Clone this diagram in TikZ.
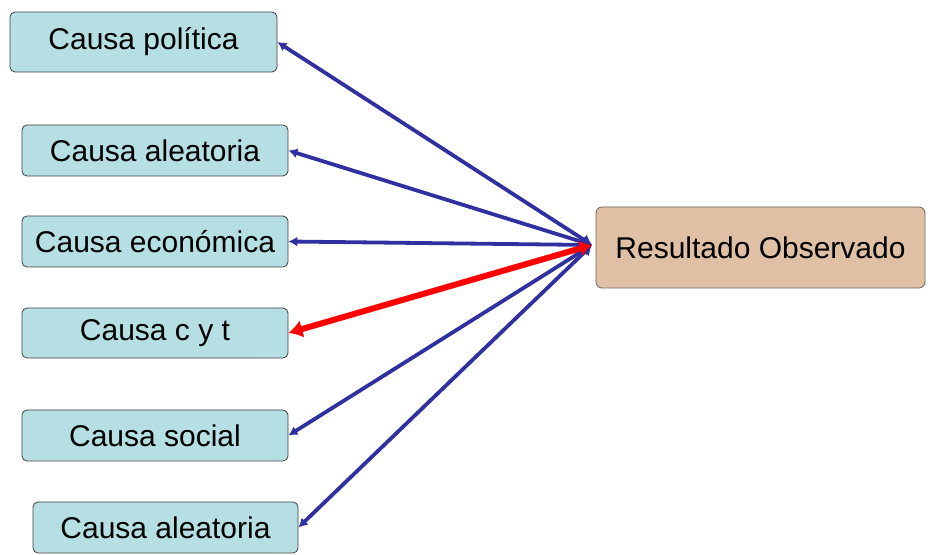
\documentclass[tikz,border=0pt]{standalone}
\usepackage{fontspec}
\setmainfont{Liberation Sans}
\usetikzlibrary{arrows.meta}
\definecolor{causafill}{RGB}{182,223,228}
\definecolor{resfill}{RGB}{223,192,165}
\definecolor{linkblue}{RGB}{48,48,160}
\tikzset{
  causa/.style={draw=black!75, fill=causafill, rounded corners=2.5pt, align=center, font=\fontsize{15}{18}\selectfont, inner sep=0pt},
  resultado/.style={draw=black!60, fill=resfill, rounded corners=3pt, align=center, font=\fontsize{15}{18}\selectfont, inner sep=0pt},
  link/.style={draw=linkblue, line width=1.9pt, {Latex[length=4.5pt,width=5pt]}-{Latex[length=5pt,width=6pt]}},
  linkred/.style={draw=red, line width=3pt, {Latex[length=7pt,width=9pt]}-{Latex[length=6pt,width=8pt]}}
}
\begin{document}
\begin{tikzpicture}[x=0.5pt,y=-0.5pt]
\useasboundingbox (0,0) rectangle (933,555);
\node (pol) [causa, minimum width=133.5pt, minimum height=30pt] at (143.5,42) {Causa política};
\node (ale) [causa, minimum width=133pt, minimum height=25.5pt] at (155,150.5) {Causa aleatoria};
\node (eco) [causa, minimum width=133pt, minimum height=25.5pt] at (155,241.5) {Causa económica};
\node (cyt) [causa, minimum width=133pt, minimum height=25pt] at (155,333) {Causa c y t};
\node (soc) [causa, minimum width=133pt, minimum height=25.5pt] at (155,435.5) {Causa social};
\node (alb) [causa, minimum width=132.5pt, minimum height=25.5pt] at (165.5,527.5) {Causa aleatoria};

\node (res) [resultado, minimum width=164.5pt, minimum height=40.5pt] at (760.5,247.5) {Resultado Observado};
\coordinate (in) at (592,245);

\draw [link] (pol.east) -- (in);
\draw [link] (ale.east) -- (in);
\draw [link] (eco.east) -- (in);
\draw [link] (soc.east) -- (in);
\draw [link] (alb.east) -- (in);
\draw [linkred] (cyt.east) -- (in);
\end{tikzpicture}
\end{document}
